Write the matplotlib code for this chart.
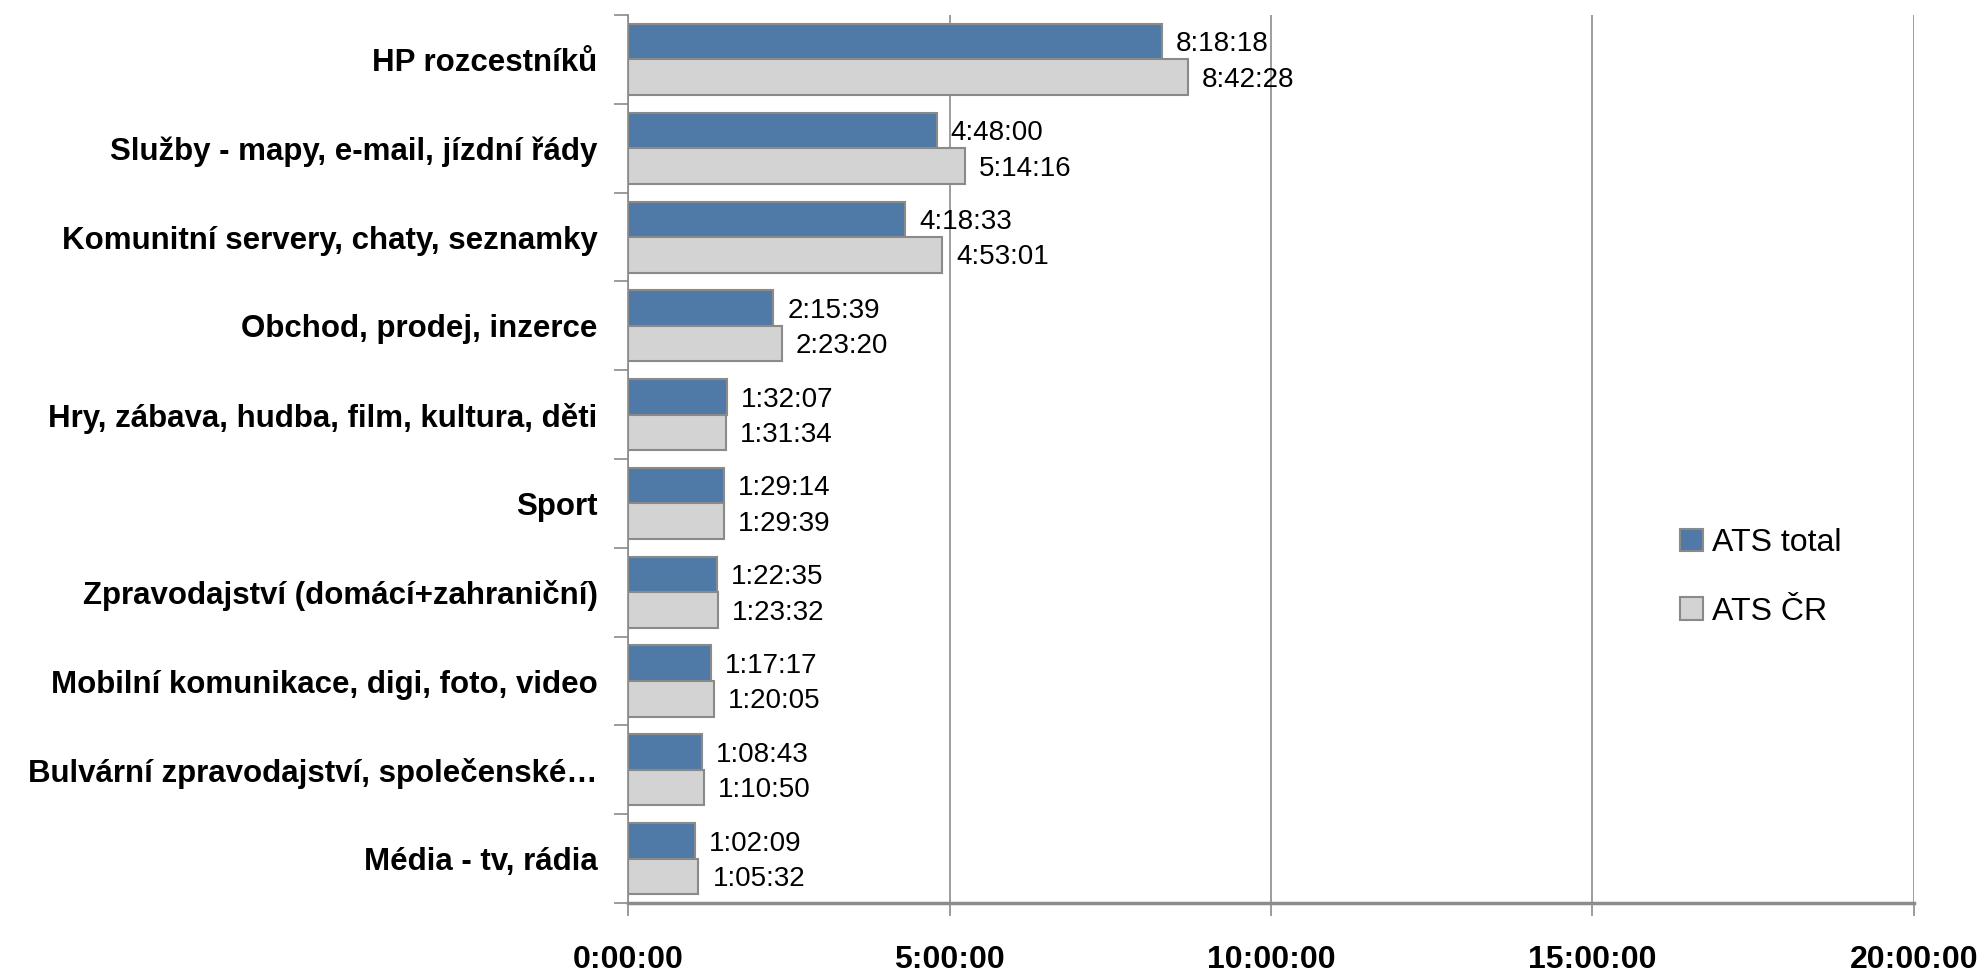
import numpy as np
import matplotlib
matplotlib.use('Agg')
import matplotlib.pyplot as plt

plt.rcParams['font.family'] = ['Liberation Sans Narrow', 'Liberation Sans', 'DejaVu Sans']

categories = ['HP rozcestníků',
              'Služby - mapy, e-mail, jízdní řády',
              'Komunitní servery, chaty, seznamky',
              'Obchod, prodej, inzerce',
              'Hry, zábava, hudba, film, kultura, děti',
              'Sport',
              'Zpravodajství (domácí+zahraniční)',
              'Mobilní komunikace, digi, foto, video',
              'Bulvární zpravodajství, společenské…',
              'Média - tv, rádia']

ats_total = ['8:18:18', '4:48:00', '4:18:33', '2:15:39', '1:32:07',
             '1:29:14', '1:22:35', '1:17:17', '1:08:43', '1:02:09']
ats_cr = ['8:42:28', '5:14:16', '4:53:01', '2:23:20', '1:31:34',
          '1:29:39', '1:23:32', '1:20:05', '1:10:50', '1:05:32']

x_ticks = ['0:00:00', '5:00:00', '10:00:00', '15:00:00', '20:00:00']


def to_hours(s):
    h, m, sec = [int(p) for p in s.split(':')]
    return h + m / 60. + sec / 3600.


total_h = np.array([to_hours(s) for s in ats_total])
cr_h = np.array([to_hours(s) for s in ats_cr])
tick_h = np.array([to_hours(s) for s in x_ticks])

blue = '#4f7aa7'
grey = '#d3d3d3'
edge = '#8a8a8a'

fig = plt.figure(figsize=(19.85, 9.76), dpi=100)
ax = fig.add_axes([0.3164, 0.0748, 0.6478, 0.9098])

y = np.arange(len(categories))
bh = 0.4
ax.barh(y - bh / 2, total_h, height=bh, color=blue, edgecolor=edge, linewidth=1.5, label='ATS total', zorder=3)
ax.barh(y + bh / 2, cr_h, height=bh, color=grey, edgecolor=edge, linewidth=1.5, label='ATS ČR', zorder=3)

for i in range(len(categories)):
    ax.text(total_h[i] + 0.22, y[i] - bh / 2 + 0.03, ats_total[i], va='center', ha='left', fontsize=20, zorder=4)
    ax.text(cr_h[i] + 0.22, y[i] + bh / 2 + 0.03, ats_cr[i], va='center', ha='left', fontsize=20, zorder=4)

ax.set_xlim(0, 20)
ax.set_ylim(len(categories) - 0.5, -0.5)

ax.set_xticks(tick_h)
ax.set_xticklabels(x_ticks, fontsize=23, fontweight='bold')
ax.tick_params(axis='x', length=9, width=1.2, color=edge, pad=21)

# category boundaries get the tick marks, names sit in between
ax.set_yticks(np.arange(len(categories) + 1) - 0.5)
ax.set_yticklabels([])
ax.set_yticks(y, minor=True)
ax.set_yticklabels(categories, minor=True, fontsize=22.5, fontweight='bold')
ax.tick_params(axis='y', which='major', length=10, width=1.2, color=edge)
ax.tick_params(axis='y', which='minor', length=0, pad=22)

ax.grid(axis='x', color='#8c8c8c', linewidth=1.2, zorder=0)
for s in ['top', 'right']:
    ax.spines[s].set_visible(False)
ax.spines['left'].set_color(edge)
ax.spines['left'].set_linewidth(1.2)
ax.spines['bottom'].set_color('#8c8c8c')
ax.spines['bottom'].set_linewidth(2.5)

leg = fig.legend(loc='upper left', bbox_to_anchor=(0.832, 0.488), frameon=False,
                 fontsize=23, handlelength=0.7, handleheight=0.7, handletextpad=0.3,
                 labelspacing=1.2)

fig.savefig('out.png', dpi=100)
